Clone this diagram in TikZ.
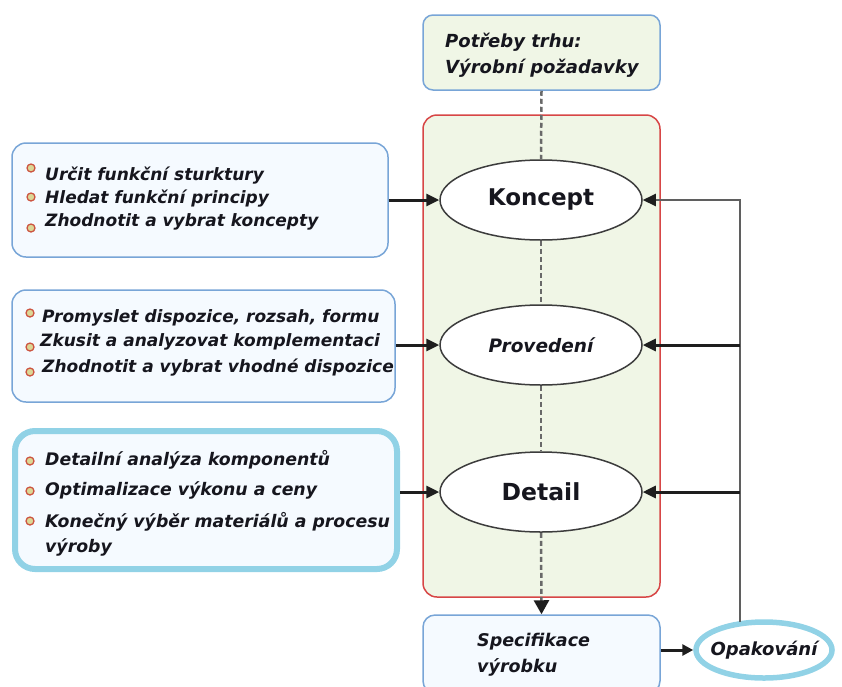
\documentclass[tikz,border=0pt]{standalone}
\usepackage{fontspec}
\setmainfont{DejaVu Sans}
\usetikzlibrary{arrows.meta,shapes.geometric}
\definecolor{ink}{RGB}{22,22,30}
\definecolor{boxblue}{RGB}{120,165,215}
\definecolor{boxfill}{RGB}{245,250,255}
\definecolor{greenfill}{RGB}{240,246,230}
\definecolor{redb}{RGB}{215,70,70}
\definecolor{cyanb}{RGB}{145,210,230}
\definecolor{bulred}{RGB}{205,85,65}
\definecolor{bulfill}{RGB}{220,215,150}
\definecolor{ellgray}{RGB}{60,60,60}
\definecolor{dashgray}{RGB}{105,105,105}
\definecolor{arrowblack}{RGB}{30,30,30}
\definecolor{fbgray}{RGB}{95,95,95}
\begin{document}
\begin{tikzpicture}[x=1pt,y=-1pt,
  pbox/.style={draw=boxblue, fill=boxfill, rounded corners=14pt, line width=1.5pt, inner sep=0pt},
  txt/.style={anchor=west, inner sep=0pt, font=\bfseries\itshape\fontsize{17}{19}\selectfont, text=ink},
  bul/.style={circle, draw=bulred, fill=bulfill, line width=1.3pt, minimum size=8pt, inner sep=0pt},
  stage/.style={ellipse, draw=ellgray, fill=white, line width=1.5pt, minimum width=202pt, minimum height=80pt, inner sep=0pt, text=ink},
  feed/.style={-{Triangle[length=13pt,width=12pt]}, line width=3pt, draw=arrowblack},
  dashline/.style={draw=dashgray, line width=2.5pt, dash pattern=on 5pt off 3pt},
]
\useasboundingbox (0,0) rectangle (842,686);

% central container
\node[draw=redb, fill=greenfill, rounded corners=14pt, line width=1.5pt, minimum width=237pt, minimum height=482pt, inner sep=0pt] (cont) at (541.5,356) {};

% top box
\node[pbox, fill=greenfill, rounded corners=10pt, minimum width=237pt, minimum height=75pt] (top) at (541.5,52.5) {};
\node[txt, font=\bfseries\itshape\fontsize{18}{20}\selectfont] (t1) at (445,42) {Potřeby trhu:};
\node[txt, font=\bfseries\itshape\fontsize{18}{20}\selectfont] (t2) at (445,68) {Výrobní požadavky};

% stages
\node[stage, font=\bfseries\fontsize{23}{25}\selectfont] (koncept) at (541,200) {Koncept};
\node[stage, font=\bfseries\itshape\fontsize{18.5}{22}\selectfont] (provedeni) at (541,345) {Provedení\hspace{12pt}};
\node[stage, font=\bfseries\fontsize{23.5}{25}\selectfont] (detail) at (541,492) {Detail};

% spec box
\node[pbox, rounded corners=12pt, minimum width=237pt, minimum height=78pt] (spec) at (541.5,654) {};
\node[txt, font=\bfseries\itshape\fontsize{17.5}{19}\selectfont] (s1) at (477,642) {Specifikace};
\node[txt, font=\bfseries\itshape\fontsize{17.5}{19}\selectfont] (s2) at (477,667) {výrobku};

% Opakovani
\node[ellipse, draw=cyanb, fill=white, line width=5.5pt, minimum width=136pt, minimum height=56pt, inner xsep=-12pt, inner ysep=0pt, text=ink, font=\bfseries\itshape\fontsize{18}{20}\selectfont] (opak) at (764,650) {Opakování};

% left box 1
\node[pbox, minimum width=376pt, minimum height=114pt] (b1) at (200,200) {};
\node[bul] (u11) at (31,168) {};
\node[bul] (u12) at (31,197) {};
\node[bul] (u13) at (31,228) {};
\node[txt] (l11) at (45,176) {Určit funkční sturktury};
\node[txt] (l12) at (45,199) {Hledat funkční principy};
\node[txt] (l13) at (45,222) {Zhodnotit a vybrat koncepty};

% left box 2
\node[pbox, minimum width=383pt, minimum height=112pt] (b2) at (203.5,346) {};
\node[bul] (u21) at (30,313) {};
\node[bul] (u22) at (30,347) {};
\node[bul] (u23) at (30,372) {};
\node[txt] (l21) at (42,318) {Promyslet dispozice, rozsah, formu};
\node[txt] (l22) at (40,342) {Zkusit a analyzovat komplementaci};
\node[txt] (l23) at (42,368) {Zhodnotit a vybrat vhodné dispozice};

% left box 3
\node[pbox, draw=cyanb, line width=6pt, rounded corners=20pt, minimum width=382pt, minimum height=138pt] (b3) at (206,500) {};
\node[bul] (u31) at (30,461) {};
\node[bul] (u32) at (30,491) {};
\node[bul] (u33) at (30,521) {};
\node[txt, font=\bfseries\itshape\fontsize{17.3}{19}\selectfont] (l31) at (45,460) {Detailní analýza komponentů};
\node[txt, font=\bfseries\itshape\fontsize{17.3}{19}\selectfont] (l32) at (45,490) {Optimalizace výkonu a ceny};
\node[txt, font=\bfseries\itshape\fontsize{17.3}{19}\selectfont] (l33) at (45,522) {Konečný výběr materiálů a procesu};
\node[txt, font=\bfseries\itshape\fontsize{17.3}{19}\selectfont] (l34) at (45,547) {výroby};

% dashed spine
\draw[dashline] (top.south) -- (koncept.north);
\draw[dashline] (koncept.south) -- (provedeni.north);
\draw[dashline] (provedeni.south) -- (detail.north);
\draw[dashline, -{Triangle[length=14pt,width=15pt,color=arrowblack]}] (detail.south) -- (spec.north);

% inputs
\draw[feed] (b1.east) -- (koncept.west);
\draw[feed] (b2.east |- provedeni.west) -- (provedeni.west);
\draw[feed] (b3.east |- detail.west) -- (detail.west);
\draw[feed, -{Triangle[length=11pt,width=11pt]}] (spec.east |- opak.west) -- (opak.west);

% feedback
\coordinate (fb) at (740,622);
\draw[draw=fbgray, line width=2pt, -{Triangle[length=13pt,width=12pt,color=arrowblack]}] (fb) |- (koncept.east);
\draw[feed] (fb |- provedeni.east) -- (provedeni.east);
\draw[feed] (fb |- detail.east) -- (detail.east);
\end{tikzpicture}
\end{document}
